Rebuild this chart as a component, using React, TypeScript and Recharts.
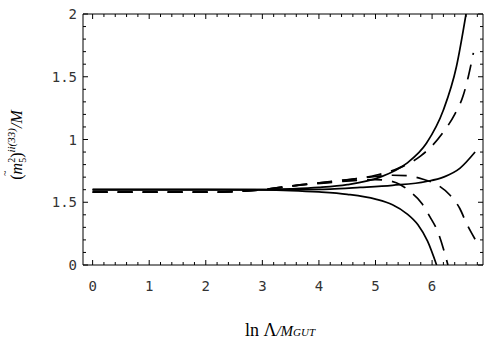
import { LineChart, Line, XAxis, YAxis } from 'recharts'

// x = ln(Lambda / M_GUT), y = (m5^2)^{ii(33)} / M
const solidRiseX = [0, 1, 2, 3, 3.5, 4, 4.5, 5.08, 5.55, 5.9, 6.2, 6.43, 6.6]
const solidRiseY = [0.6, 0.6, 0.6, 0.601, 0.607, 0.618, 0.64, 0.7, 0.81, 0.97, 1.235, 1.58, 2.0]

const solidMildX = [0, 1, 2, 3, 3.5, 4.2, 4.73, 5.3, 5.9, 6.2, 6.49, 6.76]
const solidMildY = [0.6, 0.6, 0.6, 0.6, 0.601, 0.605, 0.618, 0.635, 0.665, 0.7, 0.77, 0.9]

const solidFallX = [0, 1, 2, 3, 3.5, 4, 4.5, 5, 5.3, 5.55, 5.75, 5.92, 6.08]
const solidFallY = [0.6, 0.6, 0.6, 0.598, 0.593, 0.582, 0.563, 0.525, 0.48, 0.41, 0.32, 0.19, 0]

const dashRiseX = [0, 1, 2, 2.5, 3.1, 3.6, 4.15, 4.7, 5.0, 5.4, 5.8, 6.0, 6.2, 6.4, 6.55, 6.64, 6.73]
const dashRiseY = [0.58, 0.58, 0.58, 0.585, 0.605, 0.635, 0.662, 0.69, 0.715, 0.77, 0.87, 0.95, 1.06, 1.2, 1.35, 1.5, 1.69]

const dashTurnX = [0, 1, 2, 2.5, 3.1, 3.6, 4.15, 4.7, 5.0, 5.3, 5.55, 5.84, 6.1, 6.31, 6.49, 6.61, 6.76]
const dashTurnY = [0.58, 0.58, 0.58, 0.585, 0.605, 0.635, 0.66, 0.69, 0.705, 0.715, 0.712, 0.683, 0.637, 0.56, 0.45, 0.33, 0.205]

const dashFallX = [0, 1, 2, 2.5, 3.1, 3.6, 4.15, 4.7, 5.0, 5.25, 5.44, 5.61, 5.82, 5.96, 6.1, 6.2, 6.28]
const dashFallY = [0.58, 0.58, 0.58, 0.585, 0.605, 0.633, 0.655, 0.675, 0.68, 0.67, 0.64, 0.585, 0.49, 0.385, 0.265, 0.13, 0]

const xMajor = [0, 1, 2, 3, 4, 5, 6]
const yMajor = [0, 0.5, 1, 1.5, 2]
const yTickLabels = ['0', '1.5', '1', '1.5', '2']

const xDomain = [-0.17, 6.9]
const yDomain = [0, 2]

const zip = (xs: number[], ys: number[]) => xs.map((x, i) => ({ x, y: ys[i] }))

const curves = [
  { key: 'sr', data: zip(solidRiseX, solidRiseY), dash: undefined },
  { key: 'sm', data: zip(solidMildX, solidMildY), dash: undefined },
  { key: 'sf', data: zip(solidFallX, solidFallY), dash: undefined },
  { key: 'dr', data: zip(dashRiseX, dashRiseY), dash: '15 10' },
  { key: 'dt', data: zip(dashTurnX, dashTurnY), dash: '15 10' },
  { key: 'df', data: zip(dashFallX, dashFallY), dash: '15 10' },
]

// minor ticks: 4 between majors
const xTicks: number[] = []
for (let i = 0; i <= 34; i++) xTicks.push(Number((i * 0.2).toFixed(1)))
const yTicks: number[] = []
for (let i = 0; i <= 20; i++) yTicks.push(Number((i * 0.1).toFixed(1)))

const isMajor = (v: number, list: number[]) => list.some((m) => Math.abs(m - v) < 1e-6)

const tickFont = { fontFamily: '"DejaVu Sans Mono", monospace', fontSize: 14, fill: '#333' }

const BottomTick = (props: any) => {
  const { x, y, payload } = props
  const major = isMajor(payload.value, xMajor)
  return (
    <g>
      <line x1={x} x2={x} y1={y} y2={y - (major ? 5 : 3)} stroke="#000" />
      {major && (
        <text x={x} y={y + 26} textAnchor="middle" {...tickFont}>
          {payload.value}
        </text>
      )}
    </g>
  )
}

const TopTick = (props: any) => {
  const { x, y, payload } = props
  const major = isMajor(payload.value, xMajor)
  return <line x1={x} x2={x} y1={y} y2={y + (major ? 5 : 3)} stroke="#000" />
}

const LeftTick = (props: any) => {
  const { x, y, payload } = props
  const idx = yMajor.findIndex((m) => Math.abs(m - payload.value) < 1e-6)
  return (
    <g>
      <line x1={x} x2={x + (idx >= 0 ? 5 : 3)} y1={y} y2={y} stroke="#000" />
      {idx >= 0 && (
        <text x={x - 6} y={y + 5} textAnchor="end" {...tickFont}>
          {yTickLabels[idx]}
        </text>
      )}
    </g>
  )
}

const RightTick = (props: any) => {
  const { x, y, payload } = props
  const major = isMajor(payload.value, yMajor)
  return <line x1={x} x2={x - (major ? 5 : 3)} y1={y} y2={y} stroke="#000" />
}

const serif = '"Liberation Serif", "DejaVu Serif", serif'

export default function App() {
  return (
    <div style={{ position: 'absolute', left: 0, top: 0, width: 498, height: 351, background: '#fff' }}>
      <LineChart width={498} height={351} margin={{ top: 13, right: 14, bottom: 0, left: 0 }}>
        <XAxis
          type="number"
          dataKey="x"
          domain={xDomain}
          allowDataOverflow
          ticks={xTicks}
          interval={0}
          tickSize={0}
          tickMargin={0}
          tickLine={false}
          tick={<BottomTick />}
          axisLine={{ stroke: '#000' }}
          height={86}
        />
        <XAxis
          xAxisId="top"
          orientation="top"
          type="number"
          dataKey="x"
          domain={xDomain}
          allowDataOverflow
          ticks={xTicks}
          interval={0}
          tickSize={0}
          tickMargin={0}
          tickLine={false}
          tick={<TopTick />}
          axisLine={{ stroke: '#000' }}
          height={1}
        />
        <YAxis
          type="number"
          domain={yDomain}
          allowDataOverflow
          ticks={yTicks}
          interval={0}
          tickSize={0}
          tickMargin={0}
          tickLine={false}
          tick={<LeftTick />}
          axisLine={{ stroke: '#000' }}
          width={83}
        />
        <YAxis
          yAxisId="right"
          orientation="right"
          type="number"
          domain={yDomain}
          allowDataOverflow
          ticks={yTicks}
          interval={0}
          tickSize={0}
          tickMargin={0}
          tickLine={false}
          tick={<RightTick />}
          axisLine={{ stroke: '#000' }}
          width={1}
        />
        {curves.map((c) => (
          <Line
            key={c.key}
            data={c.data}
            dataKey="y"
            type="monotone"
            stroke="#000"
            strokeWidth={1.7}
            strokeDasharray={c.dash}
            dot={false}
            activeDot={false}
            isAnimationActive={false}
          />
        ))}
      </LineChart>
      <svg width={498} height={351} style={{ position: 'absolute', left: 0, top: 0, pointerEvents: 'none' }}>
        <text x={280} y={336} textAnchor="middle" fontFamily={serif} fill="#000">
          <tspan fontSize={18}>ln Λ</tspan>
          <tspan fontSize={15} fontStyle="italic">/M</tspan>
          <tspan fontSize={11} fontStyle="italic">GUT</tspan>
        </text>
        <g transform="translate(22,145) rotate(-90)">
          <text x={0} y={0} textAnchor="middle" fontFamily={serif} fill="#000" fontSize={16}>
            <tspan>(</tspan>
            <tspan fontStyle="italic">m</tspan>
            <tspan fontSize={10} dy={-7}>2</tspan>
            <tspan fontSize={10} dx={-5} dy={11}>5</tspan>
            <tspan dy={-4}>)</tspan>
            <tspan fontSize={11} fontStyle="italic" dy={-7}>ii(33)</tspan>
            <tspan fontStyle="italic" dy={7}>/M</tspan>
          </text>
          <text x={-31} y={-14} fontFamily={serif} fontSize={10} fill="#000">~</text>
        </g>
      </svg>
    </div>
  )
}
